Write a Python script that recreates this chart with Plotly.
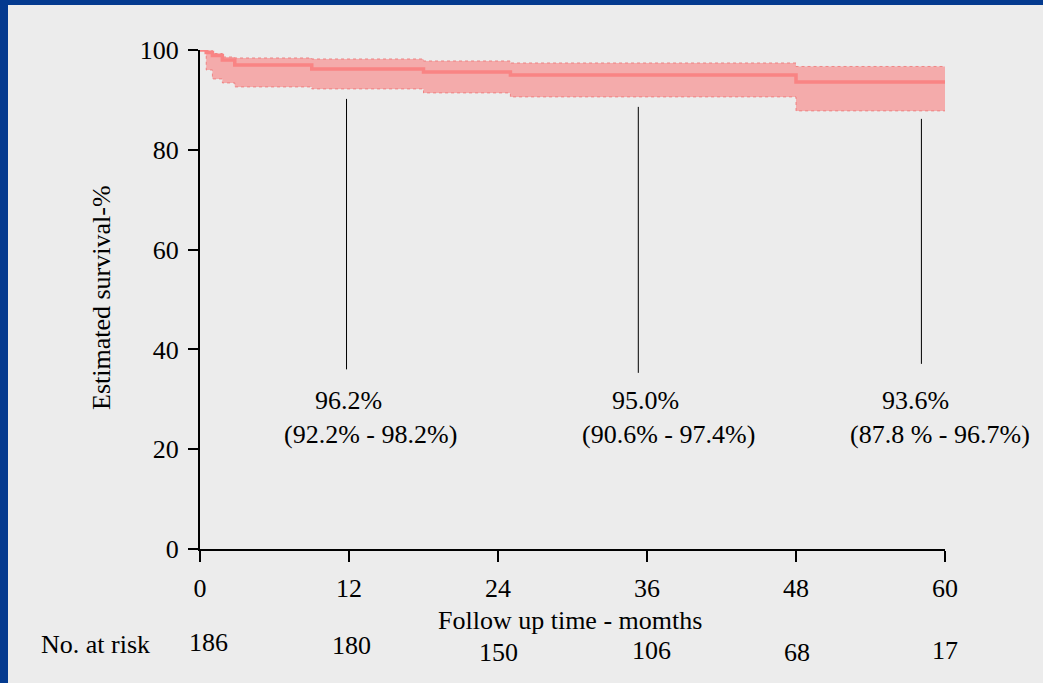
import plotly.graph_objects as go

# ---- data ----
times = [0, 0.5, 1.0, 1.8, 2.8, 9.0, 18.0, 25.0, 48.0, 60.0]
survival = [100, 99.5, 98.9, 98.0, 97.0, 96.2, 95.6, 95.0, 93.6, 93.6]
upper_ci = [100, 99.9, 99.3, 98.6, 98.4, 98.2, 97.8, 97.4, 96.7, 96.7]
lower_ci = [100, 96.0, 94.2, 93.4, 92.6, 92.2, 91.4, 90.6, 87.8, 87.8]

x_ticks = [0, 12, 24, 36, 48, 60]
y_ticks = [0, 20, 40, 60, 80, 100]
at_risk = [186, 180, 150, 106, 68, 17]
at_risk_x = [0.65, 12.2, 24.0, 36.4, 48.1, 60.0]
at_risk_ypx = [642, 645, 652, 650, 652, 650]

marker_x = [11.8, 35.3, 58.1]
marker_top = [90.2, 88.6, 86.2]
marker_bottom = [36.0, 35.3, 37.1]
label_pct = ["96.2%", "95.0%", "93.6%"]
label_ci = ["(92.2% - 98.2%)", "(90.6% - 97.4%)", "(87.8 % - 96.7%)"]
label_pct_x = [11.95, 35.9, 57.6]
label_ci_x = [13.7, 37.7, 59.6]

x_title = "Follow up time - momths"
y_title = "Estimated survival-%"
risk_title = "No. at risk"

# ---- layout geometry ----
W, H = 1043, 683
L, R, T, B = 200, 98, 50, 134
PW, PH = W - L - R, H - T - B
BG = "#ececec"
FONT = "Liberation Serif"
FS = 26

def px_to_paper_x(px):
    return (px - L) / PW

def px_to_paper_y(py):
    return (H - B - py) / PH

def txt(x, y, text, xref="x", yref="paper", angle=0):
    return dict(x=x, y=y, xref=xref, yref=yref, text=text, showarrow=False,
                xanchor="center", yanchor="middle", textangle=angle,
                font=dict(family=FONT, size=FS, color="black"))

fig = go.Figure()

fig.add_trace(go.Scatter(x=times, y=lower_ci, mode="lines", line_shape="hv",
                         line=dict(color="rgba(238,110,110,0.75)", width=1, dash="dot"),
                         hoverinfo="skip", showlegend=False))
fig.add_trace(go.Scatter(x=times, y=upper_ci, mode="lines", line_shape="hv",
                         line=dict(color="rgba(238,110,110,0.75)", width=1, dash="dot"),
                         fill="tonexty", fillcolor="rgba(250,128,128,0.6)",
                         hoverinfo="skip", showlegend=False))
fig.add_trace(go.Scatter(x=times, y=survival, mode="lines", line_shape="hv",
                         line=dict(color="#f98484", width=3.5),
                         showlegend=False))

shapes = []
for mx, t0, b0 in zip(marker_x, marker_top, marker_bottom):
    shapes.append(dict(type="line", xref="x", yref="y", x0=mx, x1=mx, y0=b0, y1=t0,
                       line=dict(color="black", width=1)))

# blue frame (left and top)
shapes.append(dict(type="rect", xref="paper", yref="paper", layer="above",
                   x0=px_to_paper_x(0), x1=px_to_paper_x(8),
                   y0=px_to_paper_y(H), y1=px_to_paper_y(0),
                   fillcolor="#043a8f", line=dict(width=0)))
shapes.append(dict(type="rect", xref="paper", yref="paper", layer="above",
                   x0=px_to_paper_x(0), x1=px_to_paper_x(W),
                   y0=px_to_paper_y(5), y1=px_to_paper_y(0),
                   fillcolor="#043a8f", line=dict(width=0)))

annotations = []
for lx, t in zip(label_pct_x, label_pct):
    annotations.append(txt(lx, px_to_paper_y(401), t))
for lx, t in zip(label_ci_x, label_ci):
    annotations.append(txt(lx, px_to_paper_y(434), t))
for ax_, ay, n in zip(at_risk_x, at_risk_ypx, at_risk):
    annotations.append(txt(ax_, px_to_paper_y(ay), str(n)))
annotations.append(txt(px_to_paper_x(95), px_to_paper_y(644), risk_title, xref="paper"))
annotations.append(txt(px_to_paper_x(570), px_to_paper_y(620), x_title, xref="paper"))
annotations.append(txt(px_to_paper_x(101), px_to_paper_y(298), y_title, xref="paper", angle=-90))

fig.update_layout(
    width=W, height=H,
    margin=dict(l=L, r=R, t=T, b=B, pad=0),
    paper_bgcolor=BG, plot_bgcolor=BG,
    font=dict(family=FONT, size=FS, color="black"),
    shapes=shapes, annotations=annotations,
    xaxis=dict(range=[0, 60], tickvals=x_ticks, ticktext=[str(v) for v in x_ticks],
               showgrid=False, zeroline=False, showline=True, linecolor="black", linewidth=2,
               ticks="outside", ticklen=11, tickwidth=2, tickcolor="black",
               ticklabelstandoff=4,
               tickfont=dict(family=FONT, size=FS)),
    yaxis=dict(range=[0, 100], tickvals=y_ticks,
               showgrid=False, zeroline=False, showline=True, linecolor="black", linewidth=2,
               ticks="outside", ticklen=10, tickwidth=2, tickcolor="black",
               ticklabelstandoff=4,
               tickfont=dict(family=FONT, size=FS)),
)

fig.write_html("out.html", config={"displayModeBar": False},
               post_script="document.body.style.margin='0';document.body.style.background='#ececec';")
